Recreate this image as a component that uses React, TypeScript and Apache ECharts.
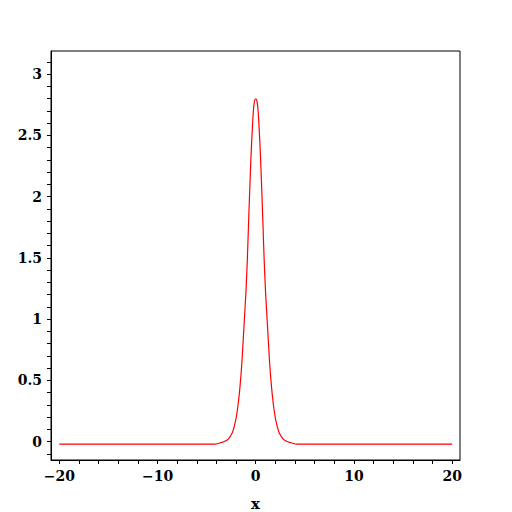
import React, { useEffect, useRef } from "react";
import * as echarts from "echarts";

// Curve values (symmetric peak at x = 0)
const xHalf = [0, 0.15, 0.25, 0.35, 0.45, 0.55, 0.65, 0.75, 0.85, 1.0, 1.2, 1.4, 1.6, 1.8, 2.0, 2.2, 2.4, 2.8, 3.2, 3.6, 4.2, 20];
const yHalf = [2.8, 2.77, 2.69, 2.55, 2.39, 2.19, 1.97, 1.74, 1.5, 1.22, 0.94, 0.66, 0.45, 0.3, 0.19, 0.12, 0.07, 0.02, 0.0, -0.01, -0.022, -0.022];

const xTickLabels = [-20, -10, 0, 10, 20];
const xMinorTicks = [-20, -18, -16, -14, -12, -10, -8, -6, -4, -2, 0, 2, 4, 6, 8, 10, 12, 14, 16, 18, 20];
const yTickLabels = [0, 0.5, 1, 1.5, 2, 2.5, 3];
const yMinorTicks = [-0.1, 0, 0.1, 0.2, 0.3, 0.4, 0.5, 0.6, 0.7, 0.8, 0.9, 1, 1.1, 1.2, 1.3, 1.4, 1.5, 1.6, 1.7, 1.8, 1.9, 2, 2.1, 2.2, 2.3, 2.4, 2.5, 2.6, 2.7, 2.8, 2.9, 3, 3.1];

export default function App() {
  const ref = useRef<HTMLDivElement>(null);
  useEffect(() => {
    if (!ref.current) return;
    const chart = echarts.init(ref.current, null, { renderer: "svg" });
    const pts: [number, number][] = [];
    for (let i = xHalf.length - 1; i > 0; i--) pts.push([-xHalf[i], yHalf[i]]);
    for (let i = 0; i < xHalf.length; i++) pts.push([xHalf[i], yHalf[i]]);
    const font = "DejaVu Serif";
    chart.setOption({
      animation: false,
      backgroundColor: "#fff",
      grid: {
        left: 51,
        top: 51,
        width: 409,
        height: 409,
        outerBoundsMode: "none",
        containLabel: false,
        show: true,
        borderColor: "#000",
        borderWidth: 1,
        backgroundColor: "transparent",
      },
      xAxis: {
        type: "value",
        min: -20.85,
        max: 20.8,
        name: "x",
        nameLocation: "middle",
        nameGap: 36,
        nameTextStyle: { fontFamily: font, fontSize: 15, fontWeight: "bold", color: "#000" },
        axisLine: { show: true, onZero: false, lineStyle: { color: "#000", width: 1 } },
        axisTick: { show: true, length: 4, customValues: xMinorTicks, lineStyle: { color: "#000" } },
        axisLabel: {
          customValues: xTickLabels,
          fontFamily: font,
          fontSize: 14,
          fontWeight: "bold",
          color: "#000",
          margin: 9,
          formatter: (v: number) => String(v).replace("-", "\u2212"),
        },
        splitLine: { show: false },
      },
      yAxis: {
        type: "value",
        min: -0.151,
        max: 3.19,
        axisLine: { show: true, onZero: false, lineStyle: { color: "#000", width: 1 } },
        axisTick: { show: true, length: 4, customValues: yMinorTicks, lineStyle: { color: "#000" } },
        axisLabel: {
          customValues: yTickLabels,
          fontFamily: font,
          fontSize: 14,
          fontWeight: "bold",
          color: "#000",
          margin: 9,
          formatter: (v: number) => String(v),
        },
        splitLine: { show: false },
      },
      series: [
        {
          type: "line",
          data: pts,
          showSymbol: false,
          smooth: 0.3,
          lineStyle: { color: "#ff0000", width: 1.2 },
        },
      ],
    });
    return () => chart.dispose();
  }, []);
  return <div ref={ref} style={{ position: "fixed", left: 0, top: 0, width: 512, height: 512 }} />;
}
